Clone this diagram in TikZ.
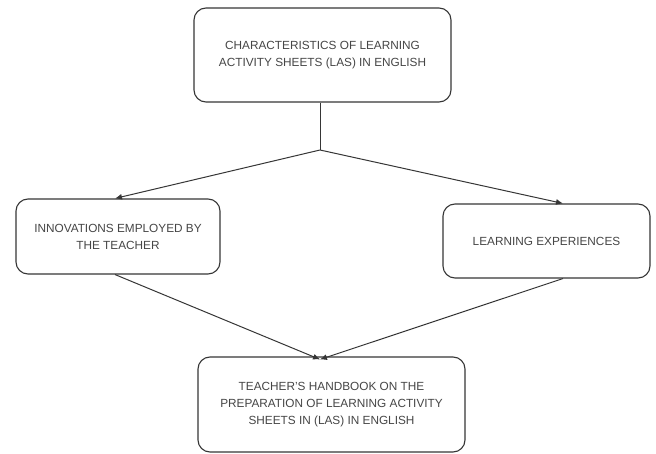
\documentclass[tikz,border=0pt]{standalone}
\usepackage{fontspec}
\setmainfont{Liberation Sans}
\usepackage{tikz}
\usetikzlibrary{arrows.meta,positioning,calc}
\definecolor{edge}{HTML}{363636}
\definecolor{txt}{HTML}{464646}

\begin{document}
\begin{tikzpicture}[
      x=1pt, y=-1pt,
      every node/.style={font=\fontsize{11.8}{17}\selectfont, text=txt},
      box/.style={draw=edge, line width=1.1pt, rounded corners=12pt, fill=white,
                  align=center, inner sep=0pt},
      arr/.style={-{Latex[length=7pt, width=6pt]}, line width=1pt, draw=edge},
      lne/.style={line width=1pt, draw=edge}
  ]
    \useasboundingbox[fill=white] (0,0) rectangle (656,454);

    % --- Top box ---
    \node[box, minimum width=257pt, minimum height=94pt] (chars) at (322.5, 55)
          {CHARACTERISTICS OF LEARNING\\ACTIVITY SHEETS (LAS) IN ENGLISH};
    \coordinate (split) at (320, 150);

    % --- Middle row ---
    \node[box, minimum width=204pt, minimum height=75pt] (innov) at (118, 236.5)
          {INNOVATIONS EMPLOYED BY\\THE TEACHER};
    \node[box, minimum width=207pt, minimum height=74pt] (exper) at (546.5, 241)
          {LEARNING EXPERIENCES};

    % --- Bottom box ---
    \node[box, minimum width=267pt, minimum height=95pt] (hbook) at (331.5, 404.5)
          {TEACHER'S HANDBOOK ON THE\\PREPARATION OF LEARNING ACTIVITY\\SHEETS IN (LAS) IN ENGLISH};

    % connectors
    \draw[lne] ([xshift=-2.5pt]chars.south) -- (split);
    \draw[arr] (split) -- ([xshift=-3pt]innov.north);
    \draw[arr] (split) -- ([xshift=16.5pt]exper.north);
    \draw[arr] ([xshift=-3pt]innov.south) -- ([xshift=-11.5pt, yshift=-3pt]hbook.north);
    \draw[arr] ([xshift=16.5pt]exper.south) -- ([xshift=-11.5pt, yshift=-3pt]hbook.north);

  \end{tikzpicture}
\end{document}
